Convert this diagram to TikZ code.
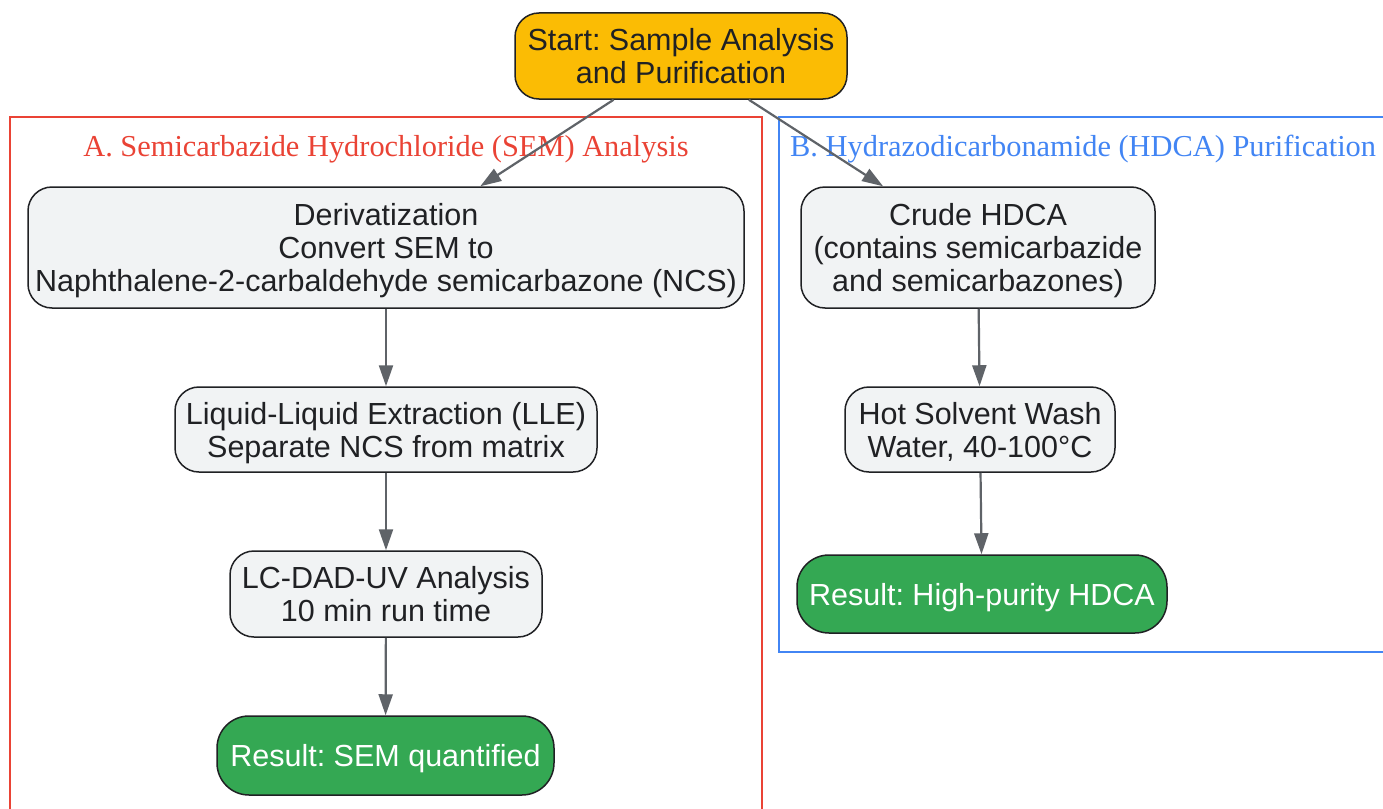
\documentclass[tikz,border=0pt]{standalone}
\usepackage{fontspec}
\setmainfont{Liberation Sans}
\newfontfamily\clusterfont{Liberation Serif}
\usetikzlibrary{arrows.meta}
\definecolor{startfill}{HTML}{FBBC04}
\definecolor{greenfill}{HTML}{34A853}
\definecolor{greyfill}{HTML}{F1F3F4}
\definecolor{redline}{HTML}{EA4335}
\definecolor{blueline}{HTML}{4285F4}
\definecolor{edgegrey}{HTML}{5F6368}
\definecolor{inkdark}{HTML}{202124}
\frenchspacing
\begin{document}
\begin{tikzpicture}[x=1pt,y=-1pt,
  base/.style={draw=inkdark, line width=1.5pt, align=center, inner sep=0pt,
    text depth=0pt, font=\fontsize{30.5}{33}\selectfont, text=inkdark},
  stepbox/.style={base, fill=greyfill, rounded corners=24pt},
  startbox/.style={base, fill=startfill, rounded corners=24pt},
  resultbox/.style={base, fill=greenfill, text=white, rounded corners=32pt},
  flow/.style={draw=edgegrey, line width=2.2pt, -{Triangle[length=21pt,width=14pt]}},
  clusterlabel/.style={font=\clusterfont\fontsize{30.4}{33}\selectfont, inner sep=0pt}
]
\clip (0,0) rectangle (1383,808);
\fill[white] (0,0) rectangle (1383,808);
% clusters
\draw[redline, line width=2pt] (10,117) rectangle (762,830);
\draw[blueline, line width=2pt] (779,117) rectangle (1400,652);
\node[clusterlabel, text=redline] (labA) at (386,149) {A. Semicarbazide Hydrochloride (SEM) Analysis};
\node[clusterlabel, text=blueline, anchor=west] (labB) at (790,149) {B. Hydrazodicarbonamide (HDCA) Purification};
% nodes
\node[startbox, minimum width=332pt, minimum height=86pt] (start) at (681,56) {Start: Sample Analysis\\and Purification};
\node[stepbox, minimum width=716pt, minimum height=121pt] (deriv) at (386,247.5) {Derivatization\\Convert SEM to\\Naphthalene-2-carbaldehyde semicarbazone (NCS)};
\node[stepbox, minimum width=422pt, minimum height=85pt] (lle) at (386,429.5) {Liquid-Liquid Extraction (LLE)\\Separate NCS from matrix};
\node[stepbox, minimum width=312pt, minimum height=86pt] (lc) at (386,594) {LC-DAD-UV Analysis\\10 min run time};
\node[resultbox, minimum width=337pt, minimum height=79pt] (rsem) at (385.5,755.5) {Result: SEM quantified};
\node[stepbox, minimum width=354pt, minimum height=121pt] (crude) at (978,247.5) {Crude HDCA\\(contains semicarbazide\\and semicarbazones)};
\node[stepbox, minimum width=270pt, minimum height=85pt] (hot) at (980,429.5) {Hot Solvent Wash\\Water, 40-100°C};
\node[resultbox, minimum width=370pt, minimum height=78pt] (rhdca) at (982,594) {Result: High-purity HDCA};
% edges
\draw[flow] (start) -- (deriv);
\draw[flow] (start) -- (crude);
\draw[flow] (deriv) -- (lle);
\draw[flow] (lle) -- (lc);
\draw[flow] (lc) -- (rsem);
\draw[flow] (crude) -- (hot);
\draw[flow] (hot) -- (rhdca);
\end{tikzpicture}
\end{document}
